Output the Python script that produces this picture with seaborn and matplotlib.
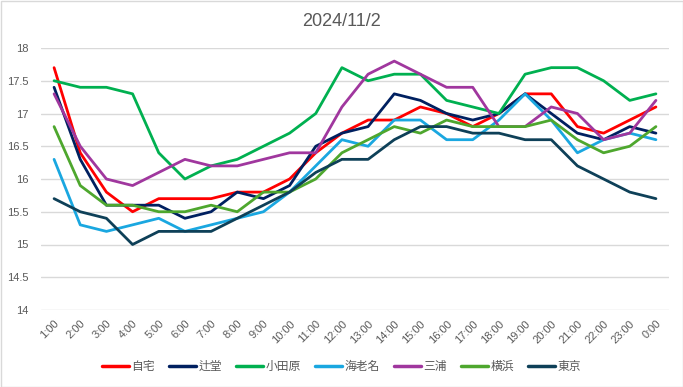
import matplotlib
matplotlib.use("Agg")
import matplotlib.pyplot as plt
import seaborn as sns
import pandas as pd
from matplotlib.patches import Rectangle

hours = [f"{h}:00" for h in range(1, 24)] + ["0:00"]

jitaku = [17.7, 16.4, 15.8, 15.5, 15.7, 15.7, 15.7, 15.8, 15.8, 16.0, 16.4, 16.7,
          16.9, 16.9, 17.1, 17.0, 16.8, 17.0, 17.3, 17.3, 16.8, 16.7, 16.9, 17.1]
tsujido = [17.4, 16.3, 15.6, 15.6, 15.6, 15.4, 15.5, 15.8, 15.7, 15.9, 16.5, 16.7,
           16.8, 17.3, 17.2, 17.0, 16.9, 17.0, 17.3, 17.0, 16.7, 16.6, 16.8, 16.7]
odawara = [17.5, 17.4, 17.4, 17.3, 16.4, 16.0, 16.2, 16.3, 16.5, 16.7, 17.0, 17.7,
           17.5, 17.6, 17.6, 17.2, 17.1, 17.0, 17.6, 17.7, 17.7, 17.5, 17.2, 17.3]
ebina = [16.3, 15.3, 15.2, 15.3, 15.4, 15.2, 15.3, 15.4, 15.5, 15.8, 16.2, 16.6,
         16.5, 16.9, 16.9, 16.6, 16.6, 16.9, 17.3, 16.9, 16.4, 16.6, 16.7, 16.6]
miura = [17.3, 16.5, 16.0, 15.9, 16.1, 16.3, 16.2, 16.2, 16.3, 16.4, 16.4, 17.1,
         17.6, 17.8, 17.6, 17.4, 17.4, 16.8, 16.8, 17.1, 17.0, 16.6, 16.7, 17.2]
yokohama = [16.8, 15.9, 15.6, 15.6, 15.5, 15.5, 15.6, 15.5, 15.8, 15.8, 16.0, 16.4,
            16.6, 16.8, 16.7, 16.9, 16.8, 16.8, 16.8, 16.9, 16.6, 16.4, 16.5, 16.8]
tokyo = [15.7, 15.5, 15.4, 15.0, 15.2, 15.2, 15.2, 15.4, 15.6, 15.8, 16.1, 16.3,
         16.3, 16.6, 16.8, 16.8, 16.7, 16.7, 16.6, 16.6, 16.2, 16.0, 15.8, 15.7]

stations = ["自宅", "辻堂", "小田原", "海老名", "三浦", "横浜", "東京"]
series = [jitaku, tsujido, odawara, ebina, miura, yokohama, tokyo]
colors = ["#FF0000", "#002060", "#00B050", "#1AA7E0", "#A0379E", "#4EA72E", "#0E4058"]

rows = []
for name, vals in zip(stations, series):
    for i, v in enumerate(vals):
        rows.append({"pos": i, "station": name, "temp": v})
df = pd.DataFrame(rows)

sns.set_style("white")
plt.rcParams["font.family"] = ["Liberation Sans", "Noto Sans CJK JP", "DejaVu Sans"]

fig = plt.figure(figsize=(6.83, 3.87), dpi=100)
ax = fig.add_axes([41 / 683, 1 - 310 / 387, 628 / 683, 262 / 387])

sns.lineplot(data=df, x="pos", y="temp", hue="station", hue_order=stations,
             palette=dict(zip(stations, colors)), linewidth=2.0, ax=ax, legend=False)

ax.set_xlim(-0.5, len(hours) - 0.5)
ax.set_ylim(14, 18)
ax.set_yticks([14 + 0.5 * k for k in range(9)])
ax.set_yticklabels([f"{14 + 0.5 * k:g}" for k in range(9)], fontsize=8, color="#595959")
ax.set_xticks(range(len(hours)))
ax.set_xticklabels(hours, rotation=45, fontsize=8, color="#595959", ha="right",
                   rotation_mode="anchor")
ax.tick_params(axis="y", length=0, pad=9)
ax.tick_params(axis="x", length=0, pad=6)
ax.grid(axis="y", color="#D9D9D9", linewidth=1)
ax.set_axisbelow(True)
ax.set_xlabel("")
ax.set_ylabel("")
for s in ax.spines.values():
    s.set_visible(False)

fig.text(0.5, 1 - 22 / 387, "2024/11/2", ha="center", va="center", fontsize=13,
         color="#595959")

handles = [plt.Line2D([0], [0], color=c, linewidth=2.5) for c in colors]
fig.legend(handles, stations, loc="center", bbox_to_anchor=(0.5, 1 - 367 / 387), ncol=7,
           frameon=False, fontsize=8.5, handlelength=2.3, columnspacing=1.2,
           handletextpad=0.2, labelcolor="#595959")

fig.patches.append(Rectangle((0.5 / 683, 0.5 / 387), 1 - 1 / 683, 1 - 1 / 387,
                             transform=fig.transFigure, fill=False,
                             edgecolor="#D9D9D9", linewidth=1))

fig.savefig("out.png", dpi=100)
